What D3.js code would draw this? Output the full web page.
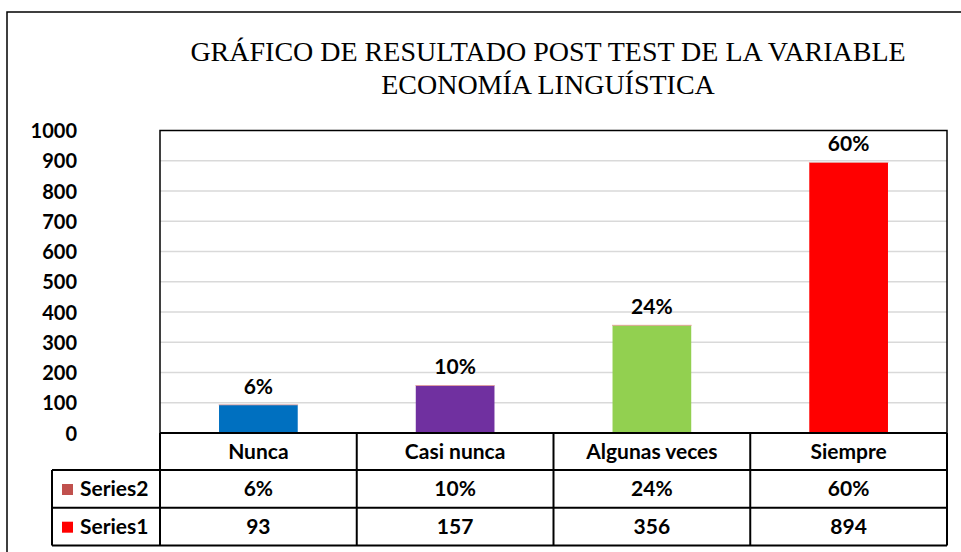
<!DOCTYPE html>
<html>
<head>
<meta charset="utf-8">
<script src="https://cdn.jsdelivr.net/npm/d3@7"></script>
<style>
  body { margin: 0; background: #fff; }
  text { font-family: Lato, "Open Sans", sans-serif; font-weight: bold; fill: #000; }
  .title { font-family: "Liberation Serif", "Times New Roman", serif; font-weight: normal; font-size: 28px; }
</style>
</head>
<body>
<div id="chart"></div>
<script>
// data
var categories = ["Nunca", "Casi nunca", "Algunas veces", "Siempre"];
var series1 = [93, 157, 356, 894];
var series2 = [0.06, 0.10, 0.24, 0.60];
var barColors = ["#0070C0", "#7030A0", "#92D050", "#FF0000"];
var yTicks = [0, 100, 200, 300, 400, 500, 600, 700, 800, 900, 1000];
var titleLines = ["GRÁFICO DE RESULTADO POST TEST DE LA VARIABLE", "ECONOMÍA LINGUÍSTICA"];
var legendRows = [
  {name: "Series2", color: "#C0504D", values: series2.map(d3.format(".0%"))},
  {name: "Series1", color: "#FF0000", values: series1.map(String)}
];

var width = 961, height = 552;
var plot = {left: 160, right: 947, top: 130.5, bottom: 433};
var rowH = 37.7, tableLeft = 52;
var fs = 21;

var svg = d3.select("#chart").append("svg")
    .attr("width", width)
    .attr("height", height);

// outer frame (right / bottom edges fall outside the picture)
svg.append("rect")
    .attr("x", 7).attr("y", 12)
    .attr("width", width + 20).attr("height", height + 20)
    .attr("fill", "none").attr("stroke", "#000").attr("stroke-width", 1.5);

// title
svg.selectAll(".title")
    .data(titleLines)
  .enter().append("text")
    .attr("class", "title")
    .attr("x", 548)
    .attr("y", function(d, i) { return 61 + i * 33; })
    .attr("text-anchor", "middle")
    .text(function(d) { return d; });

// scales
var x = d3.scaleBand().domain(categories).range([plot.left, plot.right])
    .paddingInner(0.6).paddingOuter(0.3);
var xCell = d3.scaleBand().domain(categories).range([plot.left, plot.right]);
var y = d3.scaleLinear().domain([0, 1000]).range([plot.bottom, plot.top]);

// gridlines
svg.append("g")
    .selectAll("line")
    .data(yTicks.filter(function(d) { return d > 0 && d < 1000; }))
  .enter().append("line")
    .attr("x1", plot.left).attr("x2", plot.right)
    .attr("y1", function(d) { return y(d); })
    .attr("y2", function(d) { return y(d); })
    .attr("stroke", "#d9d9d9").attr("stroke-width", 1.5);

// y axis labels
var yAxis = d3.axisLeft(y).tickValues(yTicks).tickFormat(d3.format("d"))
    .tickSize(0).tickPadding(0);
var gy = svg.append("g")
    .attr("transform", "translate(77,0)")
    .call(yAxis);
gy.select(".domain").remove();
gy.selectAll("text")
    .attr("font-family", "Lato, sans-serif")
    .attr("font-size", 20)
    .attr("font-weight", "bold")
    .attr("fill", "#000")
    .attr("dy", "0.35em");

// bars
svg.selectAll(".bar")
    .data(series1)
  .enter().append("rect")
    .attr("class", "bar")
    .attr("x", function(d, i) { return x(categories[i]); })
    .attr("y", function(d) { return y(d); })
    .attr("width", x.bandwidth())
    .attr("height", function(d) { return y(0) - y(d); })
    .attr("fill", function(d, i) { return barColors[i]; });

// series2 stacked on top (almost zero tall)
svg.selectAll(".bar2")
    .data(series2)
  .enter().append("rect")
    .attr("class", "bar2")
    .attr("x", function(d, i) { return x(categories[i]); })
    .attr("y", function(d, i) { return y(series1[i] + d); })
    .attr("width", x.bandwidth())
    .attr("height", function(d, i) { return y(series1[i]) - y(series1[i] + d); })
    .attr("fill", "#C0504D")
    .attr("stroke", "#e8a09a").attr("stroke-width", 0.8);

// data labels
svg.selectAll(".lbl")
    .data(series2)
  .enter().append("text")
    .attr("class", "lbl")
    .attr("x", function(d, i) { return x(categories[i]) + x.bandwidth() / 2; })
    .attr("y", function(d, i) { return y(series1[i] + d) - 11; })
    .attr("text-anchor", "middle")
    .attr("font-size", fs)
    .text(d3.format(".0%"));

// plot border
svg.append("rect")
    .attr("x", plot.left).attr("y", plot.top)
    .attr("width", plot.right - plot.left).attr("height", plot.bottom - plot.top)
    .attr("fill", "none").attr("stroke", "#000").attr("stroke-width", 1.5);

// data table
var table = svg.append("g");
var line = function(x1, y1, x2, y2) {
  table.append("line")
    .attr("x1", x1).attr("y1", y1).attr("x2", x2).attr("y2", y2)
    .attr("stroke", "#000").attr("stroke-width", 2);
};
var r0 = plot.bottom, r1 = r0 + 37, r2 = r1 + rowH, r3 = r2 + rowH;
line(plot.left, r0, plot.right, r0);
line(tableLeft, r1, plot.right, r1);
line(tableLeft, r2, plot.right, r2);
line(tableLeft, r3, plot.right, r3);
line(tableLeft, r1, tableLeft, r3);
categories.forEach(function(c) { line(xCell(c), r0, xCell(c), r3); });
line(plot.right, r0, plot.right, r3);

// category header row
table.selectAll(".cat")
    .data(categories)
  .enter().append("text")
    .attr("x", function(d) { return xCell(d) + xCell.bandwidth() / 2; })
    .attr("y", r0 + 26)
    .attr("text-anchor", "middle")
    .attr("font-size", fs)
    .text(function(d) { return d; });

// series rows
var rowTops = [r1, r2];
legendRows.forEach(function(row, ri) {
  var top = rowTops[ri];
  table.append("rect")
    .attr("x", 62).attr("y", top + 14)
    .attr("width", 11).attr("height", 11)
    .attr("fill", row.color);
  table.append("text")
    .attr("x", 80).attr("y", top + 26)
    .attr("font-size", fs)
    .text(row.name);
  table.selectAll(".v" + ri)
      .data(row.values)
    .enter().append("text")
      .attr("x", function(d, i) { return xCell(categories[i]) + xCell.bandwidth() / 2; })
      .attr("y", top + 26)
      .attr("text-anchor", "middle")
      .attr("font-size", fs)
      .text(function(d) { return d; });
});
</script>
</body>
</html>
